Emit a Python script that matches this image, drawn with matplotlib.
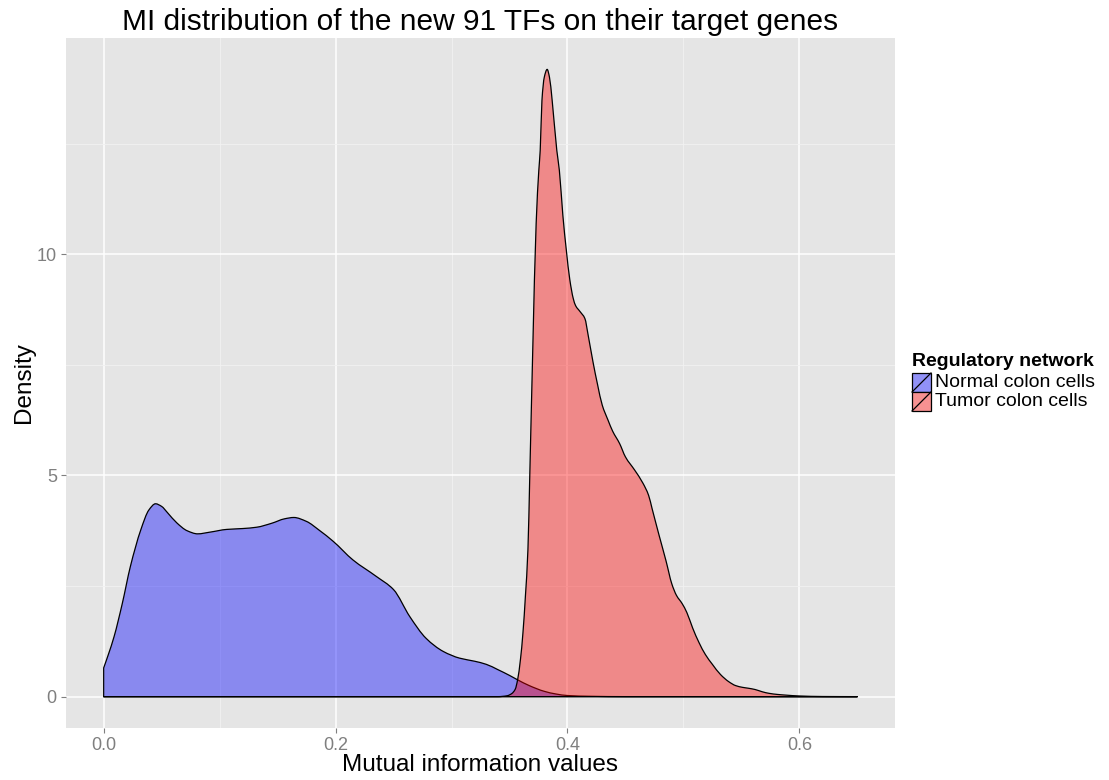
import numpy as np
import matplotlib
matplotlib.use("Agg")
import matplotlib.pyplot as plt
from matplotlib.patches import Rectangle, PathPatch
from matplotlib.lines import Line2D
from matplotlib.path import Path

plt.rcParams['font.family'] = ['Liberation Sans', 'DejaVu Sans']

# ---------------- data ----------------
title = "MI distribution of the new 91 TFs on their target genes"
x_label = "Mutual information values"
y_label = "Density"
legend_title = "Regulatory network"
series_names = ["Normal colon cells", "Tumor colon cells"]

normal_x = [0.000, 0.004, 0.009, 0.016, 0.023, 0.032, 0.039, 0.0447, 0.050, 0.055,
            0.063, 0.072, 0.081, 0.092, 0.106, 0.120, 0.132, 0.145, 0.156, 0.164,
            0.175, 0.186, 0.198, 0.215, 0.235, 0.250, 0.264, 0.278, 0.293, 0.307,
            0.320, 0.330, 0.340, 0.350, 0.357, 0.367, 0.380, 0.390, 0.400, 0.420,
            0.450, 0.650]
normal_y = [0.65, 0.95, 1.36, 2.10, 2.94, 3.77, 4.22, 4.36, 4.30, 4.16,
            3.93, 3.75, 3.68, 3.72, 3.78, 3.80, 3.83, 3.92, 4.02, 4.05,
            3.96, 3.76, 3.51, 3.09, 2.72, 2.42, 1.81, 1.32, 1.02, 0.87,
            0.80, 0.73, 0.61, 0.48, 0.38, 0.25, 0.12, 0.06, 0.025, 0.008,
            0.0, 0.0]

tumor_x = [0.000, 0.340, 0.348, 0.352, 0.355, 0.357, 0.3595, 0.3616, 0.3638, 0.3659,
           0.3675, 0.370, 0.373, 0.3753, 0.3765, 0.378, 0.380, 0.3825, 0.3845, 0.3868,
           0.3908, 0.393, 0.396, 0.399, 0.402, 0.405, 0.407, 0.411, 0.415, 0.418,
           0.422, 0.426, 0.430, 0.435, 0.439, 0.445, 0.450, 0.458, 0.465, 0.470,
           0.473, 0.479, 0.485, 0.490, 0.494, 0.499, 0.503, 0.508, 0.5135, 0.519,
           0.525, 0.532, 0.539, 0.545, 0.551, 0.556, 0.562, 0.568, 0.574, 0.581,
           0.588, 0.600, 0.620, 0.650]
tumor_y = [0.0, 0.0, 0.02, 0.07, 0.17, 0.38, 0.85, 1.44, 2.30, 3.32,
           5.0, 7.77, 10.7, 11.9, 12.35, 13.48, 14.0, 14.18, 14.0, 13.48,
           12.35, 11.9, 10.89, 10.1, 9.43, 9.0, 8.84, 8.70, 8.55, 8.15,
           7.57, 7.05, 6.59, 6.25, 6.00, 5.72, 5.42, 5.12, 4.83, 4.55,
           4.25, 3.65, 3.07, 2.55, 2.29, 2.10, 1.90, 1.55, 1.22, 0.95,
           0.73, 0.50, 0.34, 0.25, 0.21, 0.19, 0.16, 0.11, 0.074, 0.05,
           0.035, 0.015, 0.003, 0.0]

x_ticks = [0.0, 0.2, 0.4, 0.6]
x_tick_labels = ["0.0", "0.2", "0.4", "0.6"]
y_ticks = [0, 5, 10]
y_tick_labels = ["0", "5", "10"]

# ---------------- styling ----------------
W, H = 1109, 780
fill_alpha = 0.4
colors = ["#0000FF", "#FF0000"]
panel_bg = "#E5E5E5"
grey_txt = "#7F7F7F"


def smooth_area_path(xs, ys):
    """Closed area path whose top edge is a monotone cubic (Bezier) through the points."""
    xs = np.asarray(xs, float)
    ys = np.asarray(ys, float)
    h = np.diff(xs)
    d = np.diff(ys) / h
    n = len(xs)
    m = np.zeros(n)
    m[0], m[-1] = d[0], d[-1]
    for k in range(1, n - 1):
        if d[k - 1] * d[k] <= 0:
            m[k] = 0.0
        else:
            w1 = 2 * h[k] + h[k - 1]
            w2 = h[k] + 2 * h[k - 1]
            m[k] = (w1 + w2) / (w1 / d[k - 1] + w2 / d[k])
    verts = [(xs[0], 0.0), (xs[0], ys[0])]
    codes = [Path.MOVETO, Path.LINETO]
    for k in range(n - 1):
        c1 = (xs[k] + h[k] / 3, max(ys[k] + m[k] * h[k] / 3, 0.0))
        c2 = (xs[k + 1] - h[k] / 3, max(ys[k + 1] - m[k + 1] * h[k] / 3, 0.0))
        verts += [c1, c2, (xs[k + 1], ys[k + 1])]
        codes += [Path.CURVE4] * 3
    verts += [(xs[-1], 0.0), (xs[0], 0.0)]
    codes += [Path.LINETO, Path.CLOSEPOLY]
    return Path(verts, codes)


fig = plt.figure(figsize=(W / 100, H / 100), dpi=100)
ax = fig.add_axes([66 / W, 52 / H, (895 - 66) / W, (728 - 38) / H])
ax.set_facecolor(panel_bg)
for s in ax.spines.values():
    s.set_visible(False)

all_x = np.concatenate([normal_x, tumor_x])
all_y = np.concatenate([normal_y, tumor_y])
xr = all_x.max() - all_x.min()
yr = all_y.max() - 0
ax.set_xlim(all_x.min() - 0.05 * xr, all_x.max() + 0.05 * xr)
ax.set_ylim(0 - 0.05 * yr, all_y.max() + 0.05 * yr)

# grid
ax.set_xticks(x_ticks)
ax.set_xticklabels(x_tick_labels)
ax.set_yticks(y_ticks)
ax.set_yticklabels(y_tick_labels)
ax.set_xticks([0.1, 0.3, 0.5], minor=True)
ax.set_yticks([2.5, 7.5, 12.5], minor=True)
ax.grid(which='major', color='white', linewidth=1.1)
ax.grid(which='minor', color='#F2F2F2', linewidth=0.6)
ax.set_axisbelow(True)
ax.tick_params(which='major', direction='out', length=3.6, width=0.8, color=grey_txt,
               labelcolor=grey_txt, labelsize=13, pad=3)
ax.tick_params(which='minor', length=0)

# densities
for xs, ys, c in [(normal_x, normal_y, colors[0]), (tumor_x, tumor_y, colors[1])]:
    path = smooth_area_path(xs, ys)
    rgba = matplotlib.colors.to_rgba(c, fill_alpha)
    ax.add_patch(PathPatch(path, facecolor=rgba, edgecolor='black', linewidth=0.9,
                           joinstyle='round', zorder=3))

# texts
fig.text(480.5 / W, 1 - 22 / H, title, ha='center', va='center', fontsize=21.5)
fig.text(480.5 / W, 1 - 765 / H, x_label, ha='center', va='center', fontsize=17.5)
fig.text(24 / W, 1 - 383 / H, y_label, ha='center', va='center', fontsize=17.5,
         rotation=90)

# legend
fig.text(912 / W, 1 - 361 / H, legend_title, ha='left', va='center',
         fontsize=14, fontweight='bold')
key_w, key_h = 19, 19
for i, (name, c) in enumerate(zip(series_names, colors)):
    top = 373 + i * key_h
    x0 = 912 / W
    y0 = 1 - (top + key_h) / H
    fig.add_artist(Rectangle((x0, y0), key_w / W, key_h / H, transform=fig.transFigure,
                             facecolor='#F2F2F2', edgecolor='none'))
    fig.add_artist(Rectangle((x0, y0), key_w / W, key_h / H, transform=fig.transFigure,
                             facecolor=matplotlib.colors.to_rgba(c, fill_alpha),
                             edgecolor='black', linewidth=0.9))
    fig.add_artist(Line2D([x0, x0 + key_w / W], [y0, y0 + key_h / H],
                          transform=fig.transFigure, color='black', linewidth=0.9))
    fig.text(935 / W, 1 - (top + key_h / 2) / H, name, ha='left', va='center',
             fontsize=14)

fig.savefig("out.png", dpi=100)
